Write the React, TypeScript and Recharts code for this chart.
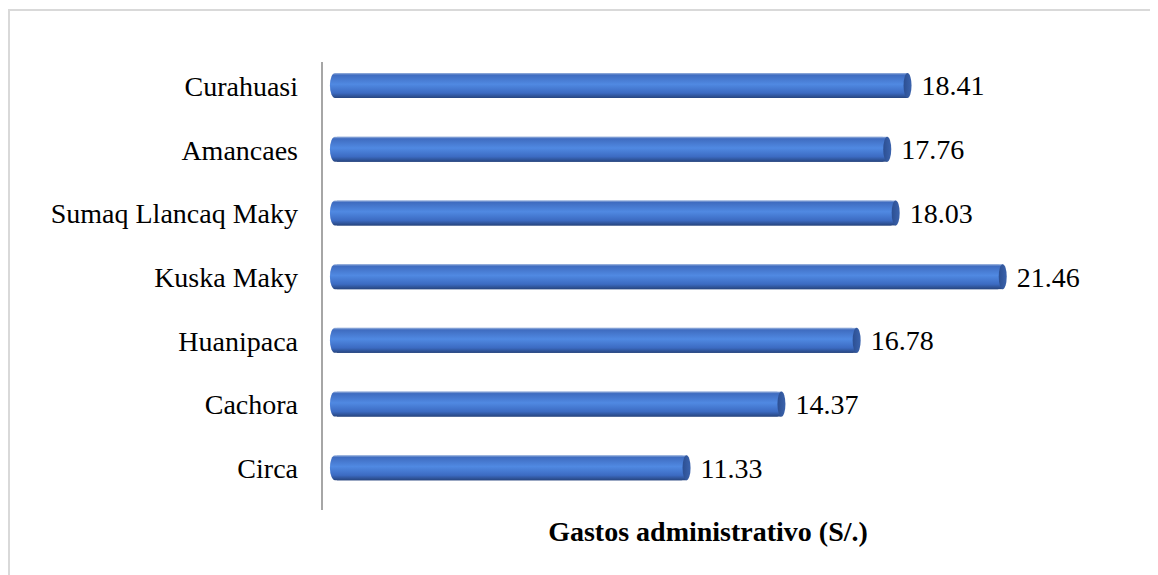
import { BarChart, Bar, XAxis, YAxis, LabelList } from "recharts";

const distritos = [
  "Curahuasi",
  "Amancaes",
  "Sumaq Llancaq Maky",
  "Kuska Maky",
  "Huanipaca",
  "Cachora",
  "Circa",
];
const gastos = [18.41, 17.76, 18.03, 21.46, 16.78, 14.37, 11.33];
const tituloEje = "Gastos administrativo (S/.)";

const data = distritos.map((name, i) => ({ name, value: gastos[i] }));

const FONT = "Liberation Serif, Tinos, DejaVu Serif, serif";

// cilindro horizontal: cuerpo con degradado + tapa elíptica al final
const Cylinder = (props: any) => {
  const { x, y, width, height } = props;
  if (width <= 0) return null;
  const cy = y + height / 2;
  const rx = 4;
  return (
    <g>
      <rect
        x={x - 3}
        y={y}
        width={width + 3}
        height={height}
        rx={5}
        ry={height / 2}
        fill="url(#cylBody)"
      />
      <rect x={x + 4} y={y} width={width - 4} height={height} fill="url(#cylBody)" />
      <ellipse cx={x + width} cy={cy} rx={rx} ry={height / 2} fill="url(#cylCap)" />
    </g>
  );
};

export default function App() {
  return (
    <div
      style={{
        width: 1150,
        height: 566,
        marginTop: 1,
        boxSizing: "border-box",
        borderTop: "2px solid #d9d9d9",
        borderLeft: "2px solid #d9d9d9",
        background: "#fff",
        fontFamily: FONT,
      }}
    >
      <BarChart
        width={1148}
        height={564}
        data={data}
        layout="vertical"
        margin={{ top: 43, right: 76, bottom: 0, left: 0 }}
        barCategoryGap={0}
        style={{ fontFamily: FONT }}
      >
        <defs>
          <linearGradient id="cylBody" x1="0" y1="0" x2="0" y2="1">
            <stop offset="0" stopColor="#9fb6de" />
            <stop offset="0.08" stopColor="#3f6cc0" />
            <stop offset="0.45" stopColor="#5089e2" />
            <stop offset="0.8" stopColor="#3c6bc2" />
            <stop offset="1" stopColor="#27457f" />
          </linearGradient>
          <linearGradient id="cylCap" x1="0" y1="0" x2="1" y2="0">
            <stop offset="0" stopColor="#2c4f92" />
            <stop offset="1" stopColor="#3b63ad" />
          </linearGradient>
        </defs>
        <XAxis
          type="number"
          domain={[-0.35, 24]}
          allowDataOverflow
          tick={false}
          tickLine={false}
          axisLine={false}
          height={65}
          label={{
            value: tituloEje,
            position: "insideTop",
            offset: 11,
            dx: 6,
            fill: "#000",
            fontSize: 28,
            fontWeight: 700,
            fontFamily: FONT,
          }}
        />
        <YAxis
          type="category"
          dataKey="name"
          width={312}
          padding={{ top: 0, bottom: 10 }}
          axisLine={{ stroke: "#a6a6a6", strokeWidth: 2, strokeDasharray: "0 8 2000" }}
          tickLine={false}
          tickSize={0}
          tickMargin={24}
          tick={{ fill: "#000", fontSize: 28, fontFamily: FONT }}
          interval={0}
        />
        <Bar dataKey="value" barSize={25} shape={<Cylinder />} isAnimationActive={false}>
          <LabelList
            dataKey="value"
            position="right"
            offset={14}
            fill="#000"
            fontSize={28}
            fontFamily={FONT}
            formatter={(v: any) => Number(v).toFixed(2)}
          />
        </Bar>
      </BarChart>
    </div>
  );
}
